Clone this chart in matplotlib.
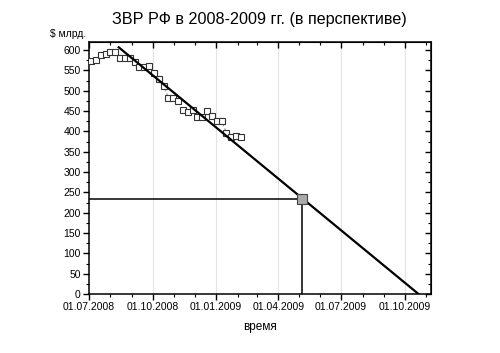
import numpy as np
import pandas as pd
import matplotlib
matplotlib.use("Agg")
import matplotlib.pyplot as plt
import matplotlib.dates as mdates

plt.rcParams['font.family'] = ['Liberation Sans', 'DejaVu Sans']

# недельные данные ЗВР, $ млрд.
dates = pd.date_range("2008-07-04", periods=32, freq="7D")
reserves = [573, 576, 587, 591, 595, 595, 580, 580, 580, 570, 559, 558,
            562, 544, 529, 513, 483, 483, 475, 452, 449, 453, 436, 436,
            450, 437, 426, 426, 396, 386, 388, 386]

# линия тренда
trend_dates = pd.to_datetime(["2008-08-13", "2009-10-21"])
trend_values = [607, 0]

# точка пересечения
cross_date = pd.to_datetime(["2009-05-06"])
cross_value = [234]

x_min = pd.Timestamp("2008-07-01")
x_max = pd.Timestamp("2009-11-08")
x_ticks = pd.to_datetime(["2008-07-01", "2008-10-01", "2009-01-01",
                          "2009-04-01", "2009-07-01", "2009-10-01"])

fig = plt.figure(figsize=(5.0, 3.53), dpi=100)
ax = fig.add_axes([0.178, 0.167, 0.684, 0.714])

# сетка по вертикали
for t in x_ticks[1:]:
    ax.axvline(t, color='#e4e4e4', lw=0.8, zorder=0)

ax.plot(dates, reserves, color='#999999', ls=(0, (3, 2)), lw=0.8,
        marker='s', ms=4.5, mfc='white', mec='#333333', mew=0.8, zorder=3)
ax.plot(trend_dates, trend_values, color='black', lw=1.6, zorder=4)

# горизонтальная и вертикальная линии к точке
ax.hlines(cross_value[0], x_min, cross_date[0], color='black', lw=1.1, zorder=2)
ax.vlines(cross_date[0], 0, cross_value[0], color='black', lw=1.1, zorder=2)
ax.plot(cross_date, cross_value, marker='s', ms=6.5, mfc='#aaaaaa',
        mec='#444444', mew=0.8, ls='none', zorder=5)

ax.set_xlim(x_min, x_max)
ax.set_ylim(0, 620)
ax.set_xticks(x_ticks)
ax.xaxis.set_minor_locator(mdates.MonthLocator())
ax.xaxis.set_major_formatter(mdates.DateFormatter('%d.%m.%Y'))
ax.set_yticks(np.arange(0, 601, 50))
ax.set_yticks(np.arange(0, 620, 25), minor=True)

ax.tick_params(axis='both', which='major', labelsize=7.5, length=4, width=1)
ax.tick_params(axis='both', which='minor', length=2.5, width=0.8)
ax.tick_params(axis='x', pad=2)
ax.tick_params(axis='y', pad=2)

# верхняя и правая оси с засечками внутрь
ax_top = ax.secondary_xaxis('top')
ax_top.set_xticks(x_ticks)
ax_top.xaxis.set_minor_locator(mdates.MonthLocator())
ax_top.tick_params(which='both', direction='in', labeltop=False)
ax_top.tick_params(which='major', length=4, width=1)
ax_top.tick_params(which='minor', length=2.5, width=0.8)
ax_right = ax.secondary_yaxis('right')
ax_right.set_yticks(np.arange(0, 601, 50))
ax_right.set_yticks(np.arange(0, 620, 25), minor=True)
ax_right.tick_params(which='both', direction='in', labelright=False)
ax_right.tick_params(which='major', length=4, width=1)
ax_right.tick_params(which='minor', length=2.5, width=0.8)

for s in ax.spines.values():
    s.set_linewidth(1.1)

fig.text(0.518, 0.945, 'ЗВР РФ в 2008-2009 гг. (в перспективе)', ha='center',
         va='center', fontsize=11.6)
fig.text(0.10, 0.905, '$ млрд.', ha='left', va='center', fontsize=7.5)
ax.set_xlabel('время', fontsize=8.5, labelpad=6)

fig.savefig('out.png', dpi=100)
